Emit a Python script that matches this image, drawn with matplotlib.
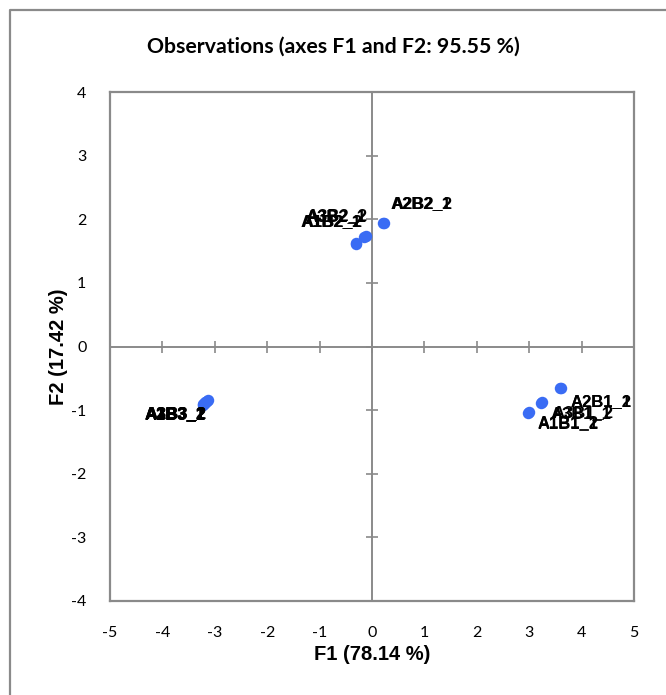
import matplotlib
matplotlib.use('Agg')
import matplotlib.pyplot as plt
from matplotlib.lines import Line2D

# observation scores on the first two factors
labels = ['A1B1_1', 'A1B1_2', 'A2B1_1', 'A2B1_2', 'A3B1_1', 'A3B1_2',
          'A1B2_1', 'A1B2_2', 'A2B2_1', 'A2B2_2', 'A3B2_1', 'A3B2_2',
          'A1B3_1', 'A1B3_2', 'A2B3_1', 'A2B3_2', 'A3B3_1', 'A3B3_2']
f1 = [2.98, 2.99, 3.59, 3.60, 3.22, 3.25,
      -0.31, -0.30, 0.21, 0.22, -0.15, -0.12,
      -3.23, -3.22, -3.13, -3.14, -3.19, -3.18]
f2 = [-1.04, -1.03, -0.66, -0.66, -0.89, -0.87,
      1.62, 1.63, 1.94, 1.94, 1.72, 1.74,
      -0.92, -0.91, -0.84, -0.85, -0.89, -0.88]

xticks = [-5, -4, -3, -2, -1, 0, 1, 2, 3, 4, 5]
yticks = [-4, -3, -2, -1, 0, 1, 2, 3, 4]

# where each label sits relative to its point (pixels, alignment)
label_pos = {
    'A1B1': (9, -15, 'left'), 'A2B1': (10, -18, 'left'), 'A3B1': (10, -15, 'left'),
    'A1B2': (6, 17, 'right'), 'A2B2': (8, 15, 'left'), 'A3B2': (2, 16, 'right'),
    'A1B3': (3, -14, 'right'), 'A2B3': (-2, -18, 'right'), 'A3B3': (1, -16, 'right'),
}

grey = '#8a8a8a'
dot = '#3a6cf4'

fig = plt.figure(figsize=(6.66, 6.95), dpi=100)
ax = fig.add_axes([110 / 666, 1 - 600.7 / 695, 524 / 666, 508.4 / 695])

ax.set_xlim(-5, 5)
ax.set_ylim(-4, 4)
for s in ax.spines.values():
    s.set_color(grey)
    s.set_linewidth(1.6)

ax.axhline(0, color=grey, lw=1.4, zorder=1)
ax.axvline(0, color=grey, lw=1.4, zorder=1)
# small tick marks on the axes through the origin
ax.plot([0] * len(yticks), yticks, ls='none', marker='_', ms=9, mew=1.2, color=grey, zorder=1)
ax.plot(xticks, [0] * len(xticks), ls='none', marker='|', ms=9, mew=1.2, color=grey, zorder=1)

ax.set_xticks(xticks)
ax.set_yticks(yticks)
ax.set_xticklabels([str(t) for t in xticks], family='Lato', fontsize=11.5)
ax.set_yticklabels([str(t) for t in yticks], family='Lato', fontsize=11.5)
ax.tick_params(length=0)
ax.tick_params(axis='x', pad=18)
ax.tick_params(axis='y', pad=17)

ax.scatter(f1, f2, s=68, color=dot, zorder=3, linewidths=0)

for name, x, y in zip(labels, f1, f2):
    dx, dy, ha = label_pos[name[:4]]
    ax.annotate(name, (x, y), xytext=(dx, dy), textcoords='offset pixels',
                ha=ha, va='baseline', family='Liberation Sans', fontweight='bold',
                fontsize=12, color='black', zorder=4)

ax.set_xlabel('F1 (78.14 %)', family='Liberation Sans', fontweight='bold', fontsize=14.5, labelpad=4)
ax.set_ylabel('F2 (17.42 %)', family='Liberation Sans', fontweight='bold', fontsize=14.5, labelpad=2)

fig.text(0.5, 1 - 47 / 695, 'Observations (axes F1 and F2: 95.55 %)', ha='center', va='center',
         family='Lato', fontweight='bold', fontsize=15.3)

# chart area border (top and left edges)
fig.add_artist(Line2D([10 / 666, 10 / 666, 1], [0, 1 - 10 / 695, 1 - 10 / 695],
                      transform=fig.transFigure, color=grey, lw=1.6))

fig.savefig('out.png', dpi=100)
